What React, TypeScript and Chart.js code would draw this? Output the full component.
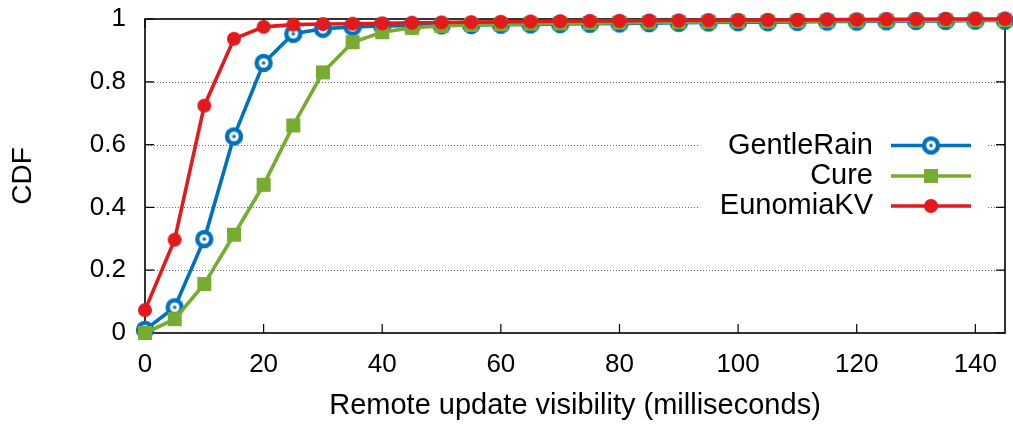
import React, { useEffect, useRef } from 'react';
import { Chart, registerables } from 'chart.js';

Chart.register(...registerables);

// ---- data ----
const xValues = [0, 5, 10, 15, 20, 25, 30, 35, 40, 45, 50, 55, 60, 65, 70, 75, 80, 85, 90, 95, 100, 105, 110, 115, 120, 125, 130, 135, 140, 145];
const gentleRain = [0.010, 0.082, 0.299, 0.626, 0.860, 0.953, 0.969, 0.975, 0.978, 0.979, 0.980, 0.981, 0.982, 0.983, 0.984, 0.985, 0.986, 0.987, 0.988, 0.989, 0.990, 0.990, 0.991, 0.992, 0.992, 0.993, 0.994, 0.994, 0.995, 0.995];
const cure = [0.000, 0.044, 0.156, 0.313, 0.472, 0.661, 0.830, 0.926, 0.958, 0.972, 0.978, 0.981, 0.983, 0.985, 0.986, 0.987, 0.988, 0.989, 0.990, 0.991, 0.992, 0.992, 0.993, 0.994, 0.994, 0.995, 0.995, 0.996, 0.996, 0.997];
const eunomiaKV = [0.073, 0.297, 0.724, 0.937, 0.975, 0.982, 0.984, 0.985, 0.986, 0.988, 0.989, 0.990, 0.991, 0.992, 0.993, 0.994, 0.994, 0.995, 0.995, 0.996, 0.996, 0.997, 0.997, 0.998, 0.998, 0.999, 0.999, 1.000, 1.000, 1.000];
const seriesNames = ['GentleRain', 'Cure', 'EunomiaKV'];
const yTickValues = [0, 0.2, 0.4, 0.6, 0.8, 1];
const yTickLabels = ['0', '0.2', '0.4', '0.6', '0.8', '1'];
const xTickValues = [0, 20, 40, 60, 80, 100, 120, 140];
const xTitle = 'Remote update visibility (milliseconds)';
const yTitle = 'CDF';

const BLUE = '#0072bd';
const GREEN = '#77ac30';
const RED = '#e31a1c';
const FONT = '"Liberation Sans", Arial, Helvetica, sans-serif';

function makeMarker(kind: string, color: string): HTMLCanvasElement {
  const c = document.createElement('canvas');
  const s = 22;
  c.width = s;
  c.height = s;
  const g = c.getContext('2d')!;
  const m = s / 2;
  if (kind === 'ring') {
    g.beginPath(); g.arc(m, m, 9.2, 0, Math.PI * 2); g.fillStyle = color; g.fill();
    g.beginPath(); g.arc(m, m, 4.8, 0, Math.PI * 2); g.fillStyle = '#ffffff'; g.fill();
    g.beginPath(); g.arc(m, m, 1.8, 0, Math.PI * 2); g.fillStyle = color; g.fill();
  } else if (kind === 'square') {
    g.fillStyle = color;
    g.fillRect(m - 7, m - 7, 14, 14);
  } else {
    g.beginPath(); g.arc(m, m, 7, 0, Math.PI * 2); g.fillStyle = color; g.fill();
  }
  return c;
}

const zeroPadding = () => ({ left: 0, right: 0, top: 0, bottom: 0 });

const framePlugin = {
  id: 'gnuFrame',
  beforeDatasetsDraw(chart: any) {
    const { ctx, chartArea } = chart;
    const { left, right, top, bottom } = chartArea;
    const xs = chart.scales.x;
    const ys = chart.scales.y;
    ctx.save();
    // dotted horizontal grid
    ctx.strokeStyle = '#666666';
    ctx.lineWidth = 1;
    ctx.setLineDash([1, 2]);
    yTickValues.forEach((v) => {
      if (v === 0 || v === 1) return;
      const py = Math.round(ys.getPixelForValue(v)) + 0.5;
      ctx.beginPath();
      ctx.moveTo(left, py);
      ctx.lineTo(right, py);
      ctx.stroke();
    });
    ctx.setLineDash([]);
    // legend background
    ctx.fillStyle = '#ffffff';
    ctx.fillRect(698, 128, 288, 94);
    // frame
    ctx.strokeStyle = '#000000';
    ctx.lineWidth = 1.6;
    ctx.strokeRect(left, top, right - left, bottom - top);
    // inward ticks
    const tl = 9;
    ctx.lineWidth = 1.2;
    yTickValues.forEach((v) => {
      const py = ys.getPixelForValue(v);
      ctx.beginPath();
      ctx.moveTo(left, py); ctx.lineTo(left + tl, py);
      ctx.moveTo(right, py); ctx.lineTo(right - tl, py);
      ctx.stroke();
    });
    xTickValues.forEach((v) => {
      const px = xs.getPixelForValue(v);
      ctx.beginPath();
      ctx.moveTo(px, bottom); ctx.lineTo(px, bottom - tl);
      ctx.moveTo(px, top); ctx.lineTo(px, top + tl);
      ctx.stroke();
    });
    ctx.restore();
  },
  afterDatasetsDraw(chart: any) {
    const { ctx } = chart;
    const rows = [145.5, 176, 206];
    const textRight = 873;
    const lineL = 891;
    const lineR = 971;
    ctx.save();
    ctx.font = `29px ${FONT}`;
    ctx.textAlign = 'right';
    ctx.textBaseline = 'middle';
    chart.data.datasets.forEach((ds: any, i: number) => {
      const y = rows[i];
      ctx.fillStyle = '#000000';
      ctx.fillText(ds.label, textRight, y);
      ctx.strokeStyle = ds.borderColor;
      ctx.lineWidth = ds.borderWidth;
      ctx.beginPath();
      ctx.moveTo(lineL, y);
      ctx.lineTo(lineR, y);
      ctx.stroke();
      const img = ds.pointStyle as HTMLCanvasElement;
      ctx.drawImage(img, (lineL + lineR) / 2 - img.width / 2, y - img.height / 2);
    });
    ctx.restore();
  },
};

export default function App() {
  const canvasRef = useRef<HTMLCanvasElement | null>(null);

  useEffect(() => {
    const canvas = canvasRef.current!;
    const seriesValues = [gentleRain, cure, eunomiaKV];
    const colors = [BLUE, GREEN, RED];
    const markers = [makeMarker('ring', BLUE), makeMarker('square', GREEN), makeMarker('dot', RED)];
    const orders = [2, 1, 0];
    const chart = new Chart(canvas, {
      type: 'line',
      data: {
        datasets: seriesNames.map((name, i) => ({
          label: name,
          data: xValues.map((x, j) => ({ x, y: seriesValues[i][j] })),
          borderColor: colors[i],
          backgroundColor: colors[i],
          borderWidth: 3.6,
          pointStyle: markers[i],
          pointRadius: 9,
          pointHoverRadius: 9,
          clip: false,
          order: orders[i],
          tension: 0,
          fill: false,
        })),
      },
      options: {
        responsive: false,
        animation: false,
        events: [],
        layout: { autoPadding: false, padding: { left: 0, right: 8, top: 19, bottom: 0 } },
        plugins: {
          legend: { display: false },
          tooltip: { enabled: false },
          title: { display: false },
        },
        scales: {
          x: {
            type: 'linear',
            min: 0,
            max: 145,
            grid: { display: false, drawTicks: false },
            border: { display: false },
            afterFit: (s: any) => {
              s.height = 92;
              s.paddingLeft = 0; s.paddingRight = 0;
              s.getPadding = zeroPadding;
            },
            afterBuildTicks: (s: any) => { s.ticks = xTickValues.map((v) => ({ value: v })); },
            ticks: {
              autoSkip: false,
              maxRotation: 0,
              padding: 16,
              color: '#000000',
              font: { family: FONT, size: 26 },
              callback: (v: any) => String(v),
            },
            title: {
              display: true,
              text: xTitle,
              color: '#000000',
              font: { family: FONT, size: 29 },
              padding: { top: 0, bottom: 2 },
            },
          },
          y: {
            type: 'linear',
            min: 0,
            max: 1,
            grid: { display: false, drawTicks: false },
            border: { display: false },
            afterFit: (s: any) => {
              s.width = 145;
              s.paddingTop = 0; s.paddingBottom = 0;
              s.getPadding = zeroPadding;
            },
            afterBuildTicks: (s: any) => { s.ticks = yTickValues.map((v) => ({ value: v })); },
            ticks: {
              autoSkip: false,
              padding: 19,
              color: '#000000',
              font: { family: FONT, size: 26 },
              callback: (v: any) => {
                const idx = yTickValues.findIndex((t) => Math.abs(t - v) < 1e-9);
                return idx >= 0 ? yTickLabels[idx] : '';
              },
            },
            title: {
              display: true,
              text: yTitle,
              color: '#000000',
              font: { family: FONT, size: 28 },
              padding: { top: 6.5, bottom: 0 },
            },
          },
        },
      },
      plugins: [framePlugin],
    });
    return () => chart.destroy();
  }, []);

  return (
    <canvas
      ref={canvasRef}
      width={1013}
      height={425}
      style={{ position: 'fixed', left: 0, top: 0, width: 1013, height: 425, display: 'block', background: '#ffffff' }}
    />
  );
}
